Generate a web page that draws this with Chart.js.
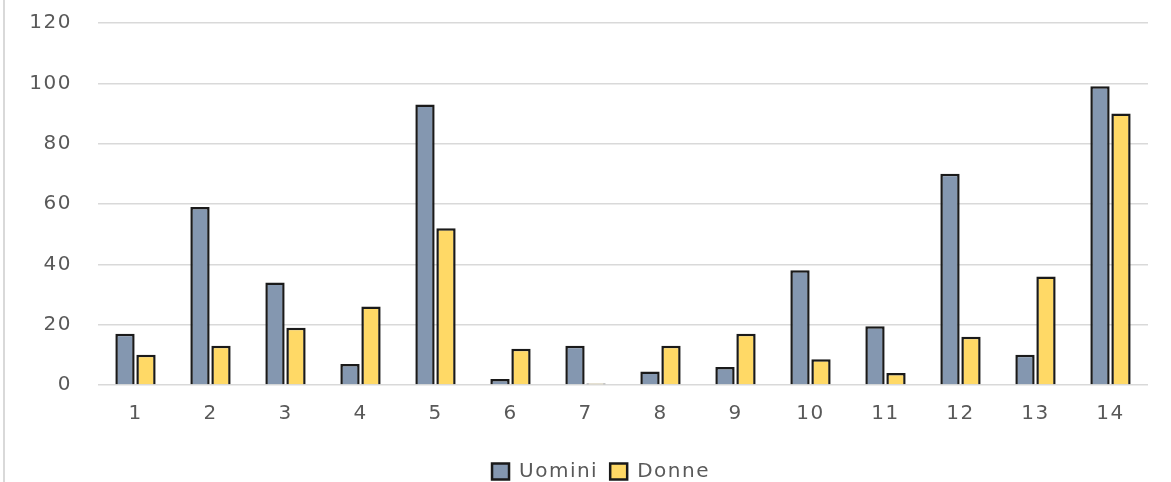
<!DOCTYPE html>
<html>
<head>
<meta charset="utf-8">
<script src="https://cdn.jsdelivr.net/npm/chart.js@4.4.1/dist/chart.umd.min.js"></script>
<style>
html,body{margin:0;padding:0;background:#fff;}
#wrap{position:relative;width:1171px;height:482px;}
</style>
</head>
<body>
<div id="wrap"><canvas id="c" width="1171" height="482"></canvas></div>
<script>
const categories = ['1','2','3','4','5','6','7','8','9','10','11','12','13','14'];
const uomini = [17, 59, 34, 7, 93, 2, 13, 4.5, 6, 38, 19.5, 70, 10, 99];
const donne  = [10, 13, 19, 26, 52, 12, 0.5, 13, 17, 8.5, 4, 16, 36, 90];
const yTicks = [0, 20, 40, 60, 80, 100, 120];

const FONT = { family: 'DejaVu Sans', size: 20 };
const SPACING = '1.5px';
const LEGEND_SHIFT = 27;

const decor = {
  id: 'decor',
  beforeUpdate(chart) { chart.ctx.letterSpacing = SPACING; },
  beforeLayout(chart) { chart.ctx.letterSpacing = SPACING; },
  afterLayout(chart) {
    if (chart.legend) {
      chart.legend.left += LEGEND_SHIFT;
      chart.legend.right += LEGEND_SHIFT;
    }
  },
  beforeDraw(chart) {
    const ctx = chart.ctx;
    ctx.letterSpacing = SPACING;
    ctx.save();
    ctx.fillStyle = '#fff';
    ctx.fillRect(0, 0, chart.width, chart.height);
    ctx.strokeStyle = '#d9d9d9';
    ctx.lineWidth = 2;
    ctx.beginPath();
    ctx.moveTo(4, 0);
    ctx.lineTo(4, chart.height);
    ctx.stroke();
    ctx.restore();
  }
};

new Chart(document.getElementById('c'), {
  type: 'bar',
  data: {
    labels: categories,
    datasets: [
      { label: 'Uomini', data: uomini, backgroundColor: '#8497B0', borderColor: '#1a1a1a', borderWidth: 2.5 },
      { label: 'Donne', data: donne, backgroundColor: '#FFD966', borderColor: '#1a1a1a', borderWidth: 2.5 }
    ]
  },
  options: {
    responsive: false,
    animation: false,
    devicePixelRatio: 1,
    datasets: { bar: { categoryPercentage: 0.56, barPercentage: 0.92 } },
    layout: { padding: { left: 0, right: 23, top: 23, bottom: -9.5 } },
    plugins: {
      tooltip: { enabled: false },
      legend: {
        position: 'bottom',
        labels: {
          color: '#595959',
          font: FONT,
          boxWidth: 17, boxHeight: 16,
          padding: 12,
          useBorderRadius: false
        }
      }
    },
    scales: {
      x: {
        afterFit(scale) { scale.height = 64.5; },
        grid: { display: false, drawTicks: false },
        border: { display: false },
        ticks: { color: '#595959', font: FONT, padding: 17 }
      },
      y: {
        min: 0, max: 120,
        afterBuildTicks(scale) { scale.ticks = yTicks.map(v => ({ value: v })); },
        afterFit(scale) { scale.width = 98; },
        grid: { color: '#d9d9d9', lineWidth: 1.5, drawTicks: true, tickLength: 26, tickColor: 'rgba(0,0,0,0)' },
        border: { display: false },
        ticks: { color: '#595959', font: FONT, padding: 0 }
      }
    }
  },
  plugins: [decor]
});
</script>
</body>
</html>
